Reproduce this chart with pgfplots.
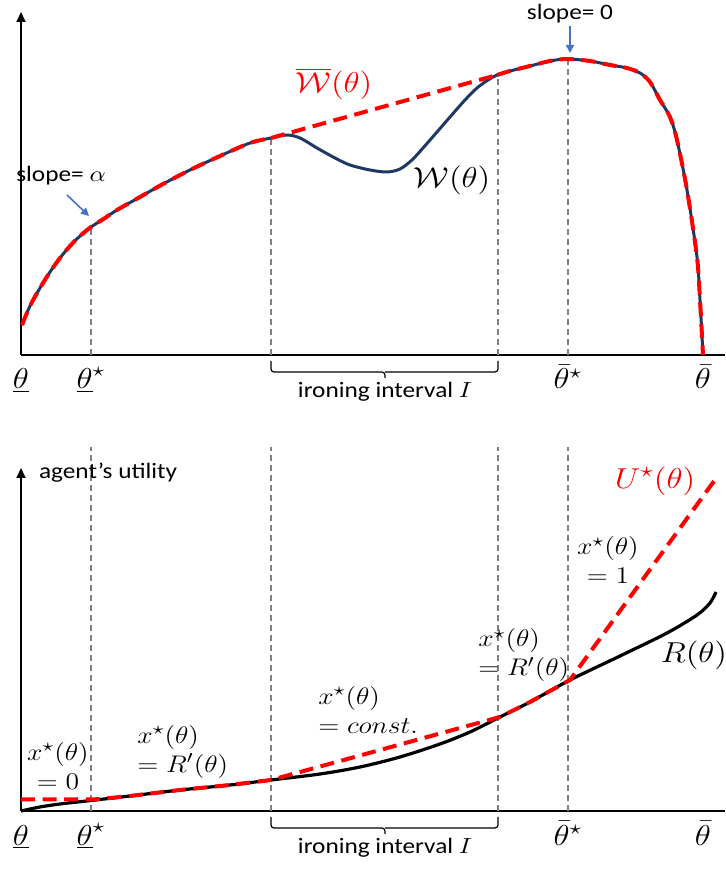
\documentclass[border=0pt]{standalone}
\usepackage{pgfplots}
\pgfplotsset{compat=1.18}
\usepackage{fontspec}
\setmainfont{Carlito}
\usepackage{graphicx}
\usetikzlibrary{arrows.meta}

\definecolor{navy}{HTML}{1F3864}
\definecolor{arrblue}{HTML}{4472C4}
\definecolor{vgray}{HTML}{808080}
\newcommand{\sx}[1]{\scalebox{1.15}[1]{#1}}

\tikzset{
  txt/.style={font=\fontsize{11}{13}\selectfont},
  mth/.style={font=\fontsize{12.5}{14.5}\selectfont, inner sep=1pt},
}
\pgfplotsset{
  panel/.style={
    x=0.5pt, y=0.5pt, xmin=21, xmax=725, ymin=0, ymax=343,
    axis lines=left, clip=false, anchor=south west,
    axis line style={line width=1pt, black},
    x axis line style={-},
    y axis line style={-{Triangle[length=5pt,width=4.5pt]}},
    ytick=\empty,
    xtick={21,91,568,703},
    xticklabels={{\sx{$\underline{\theta}$}},{\sx{$\underline{\theta}^{\star}$}},{\sx{$\bar{\theta}^{\star}$}},{\sx{$\bar{\theta}$}}},
    major tick length=0pt,
    xticklabel style={anchor=base, yshift=-17pt, inner sep=0pt, font=\fontsize{14}{16}\selectfont},
  },
  vguide/.style={vgray, line width=0.75pt, dash pattern=on 3pt off 2pt, forget plot},
  rdash/.style={red, line width=2pt, dash pattern=on 7pt off 3.8pt},
}

\begin{document}
\begin{tikzpicture}
\useasboundingbox (0,0) rectangle (362.5pt,434.5pt);

% ---------- top panel ----------
\begin{axis}[panel, at={(10.5pt,257pt)}]
  \addplot[vguide] coordinates {(91,0) (91,128)};
  \addplot[vguide] coordinates {(271,0) (271,217)};
  \addplot[vguide] coordinates {(498,0) (498,280)};
  \addplot[vguide] coordinates {(568,0) (568,296)};

  % W(theta)
  \addplot[navy, line width=1.5pt, smooth] coordinates {
    (22,30) (30,49) (40,67) (50,83) (60,97) (70,109) (80,119) (91,128)
    (105,137) (117,145) (140,158) (163,171) (190,185) (220,199) (250,212)
    (271,217) (287,220) (300,217) (317,207) (335,197) (350,190) (370,185)
    (387,183) (400,186) (412,195) (423,207) (437,223) (450,238) (465,255)
    (477,267) (488,275) (497,280) (510,284) (530,289) (550,294) (567,296)
    (590,294) (610,290) (627,287) (640,282) (650,273) (660,255) (670,238)
    (677,215) (687,165) (697,98) (700,55) (703,0)};

  % concavified W
  \addplot[rdash, smooth] coordinates {
    (22,30) (30,49) (40,67) (50,83) (60,97) (70,109) (80,119) (91,128)
    (105,137) (117,145) (140,158) (163,171) (190,185) (220,199) (250,212)
    (271,217)};
  \addplot[rdash] coordinates {(271,217) (497,280)};
  \addplot[rdash, smooth] coordinates {
    (497,280) (510,284) (530,289) (550,294) (567,296)
    (590,294) (610,290) (627,287) (640,282) (650,273) (660,255) (670,238)
    (677,215) (687,165) (697,98) (700,55) (703,0)};

  \node[txt] at (axis cs:570,341) {\sx{slope= 0}};
  \draw[arrblue, line width=0.8pt, -{Triangle[length=4pt,width=4pt]}] (axis cs:570,329) -- (axis cs:570,302);
  \node[txt] at (axis cs:61,179) {\sx{slope= $\alpha$}};
  \draw[arrblue, line width=0.8pt, -{Triangle[length=4pt,width=4pt]}] (axis cs:67,160) -- (axis cs:89,139);

  \node[red, font=\fontsize{14}{16}\selectfont] at (axis cs:334,271) {\sx{$\overline{\mathcal{W}}(\theta)$}};
  \node[font=\fontsize{14}{16}\selectfont] at (axis cs:452,175) {\sx{$\mathcal{W}(\theta)$}};

  \draw[line width=0.6pt, rounded corners=1.5pt] (axis cs:271,-6) |- (axis cs:385,-17) -- (axis cs:385,-23)
    (axis cs:385,-17) -| (axis cs:498,-6);
  \node[txt] at (axis cs:385,-37) {\sx{ironing interval $I$}};
\end{axis}

% ---------- bottom panel ----------
\begin{axis}[panel, at={(10.5pt,29pt)}]
  \addplot[vguide] coordinates {(91,0) (91,364)};
  \addplot[vguide] coordinates {(271,0) (271,364)};
  \addplot[vguide] coordinates {(498,0) (498,364)};
  \addplot[vguide] coordinates {(568,0) (568,364)};

  % R(theta)
  \addplot[black, line width=1.6pt, smooth] coordinates {
    (21,0) (40,4) (60,7) (91,10.5) (130,15) (180,21) (230,26) (271,31)
    (320,37) (360,44) (400,54) (440,67) (470,79) (500,94) (530,109)
    (570,131) (620,155) (667,178) (697,196) (710,208) (716,219)};

  % U*(theta)
  \addplot[rdash] coordinates {
    (21,11.5) (91,11.5) (100,12) (130,15) (180,21) (230,26) (271,31)
    (500,94) (530,109) (570,131) (717,334)};

  \node[txt, anchor=west] at (axis cs:32,338) {\sx{agent’s utility}};

  \node[mth, align=center] at (axis cs:58,45) {\sx{$x^{\star}(\theta)$}\\\sx{$=0$}};
  \node[mth, align=left, anchor=west] at (axis cs:135,59.5) {\sx{$x^{\star}(\theta)$}\\\sx{$=R'(\theta)$}};
  \node[mth, align=left, anchor=west] at (axis cs:316,101) {\sx{$x^{\star}(\theta)$}\\\sx{$=\mathnormal{const}.$}};
  \node[mth, align=left, anchor=west] at (axis cs:476,155.5) {\sx{$x^{\star}(\theta)$}\\\sx{$=R'(\theta)$}};
  \node[mth, align=center] at (axis cs:608,250.5) {\sx{$x^{\star}(\theta)$}\\\sx{$=1$}};

  \node[red, font=\fontsize{15}{17}\selectfont] at (axis cs:655,330) {\sx{$U^{\star}(\theta)$}};
  \node[font=\fontsize{15}{17}\selectfont] at (axis cs:694,156) {\sx{$R(\theta)$}};

  \draw[line width=0.6pt, rounded corners=1.5pt] (axis cs:271,-6) |- (axis cs:385,-17) -- (axis cs:385,-23)
    (axis cs:385,-17) -| (axis cs:498,-6);
  \node[txt] at (axis cs:385,-37) {\sx{ironing interval $I$}};
\end{axis}
\end{tikzpicture}
\end{document}
